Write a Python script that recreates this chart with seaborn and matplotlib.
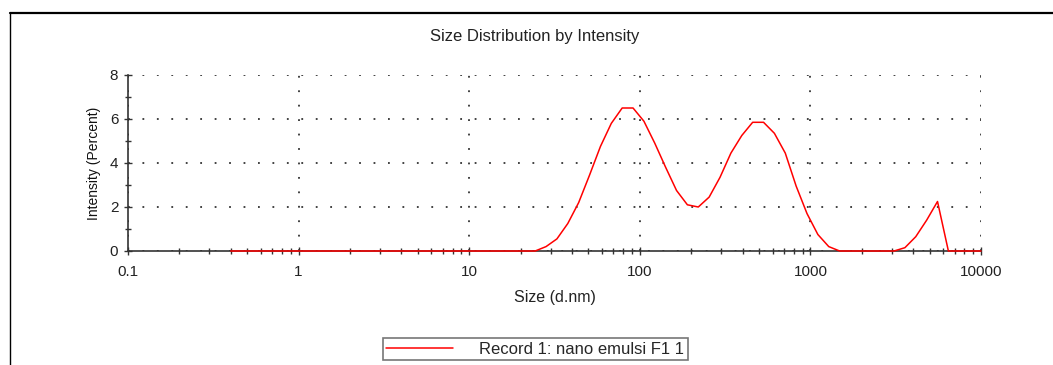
import matplotlib
matplotlib.use("Agg")
import matplotlib.pyplot as plt
import matplotlib.ticker as mticker
from matplotlib.lines import Line2D
import seaborn as sns
import pandas as pd

sizes = [0.4, 0.4632, 0.5365, 0.6213, 0.7195, 0.8332, 0.9649, 1.117, 1.294, 1.499,
         1.736, 2.01, 2.328, 2.696, 3.122, 3.615, 4.187, 4.849, 5.615, 6.503,
         7.531, 8.721, 10.1, 11.7, 13.54, 15.69, 18.17, 21.04, 24.36, 28.21,
         32.67, 37.84, 43.82, 50.75, 58.77, 68.06, 78.82, 91.28, 105.7, 122.4,
         141.8, 164.2, 190.1, 220.2, 255.0, 295.3, 342.0, 396.1, 458.7, 531.2,
         615.1, 712.4, 825.0, 955.4, 1106, 1281, 1484, 1718, 1990, 2305,
         2669, 3091, 3580, 4145, 4801, 5560, 6439, 7456, 8635, 10000]
intensity = [0, 0, 0, 0, 0, 0, 0, 0, 0, 0,
             0, 0, 0, 0, 0, 0, 0, 0, 0, 0,
             0, 0, 0, 0, 0, 0, 0, 0, 0, 0.2,
             0.55, 1.25, 2.2, 3.45, 4.75, 5.8, 6.5, 6.5, 5.9, 4.9,
             3.8, 2.75, 2.1, 2.0, 2.45, 3.35, 4.45, 5.25, 5.85, 5.85,
             5.35, 4.45, 2.95, 1.7, 0.75, 0.2, 0, 0, 0, 0,
             0, 0, 0.15, 0.65, 1.4, 2.25, 0, 0, 0, 0]
x_ticks = [0.1, 1, 10, 100, 1000, 10000]
x_tick_labels = ["0.1", "1", "10", "100", "1000", "10000"]
y_ticks = [0, 2, 4, 6, 8]
series_name = "Record 1: nano emulsi F1 1"

sns.set_style("white")
plt.rcParams['font.family'] = ['Liberation Sans', 'DejaVu Sans']

df = pd.DataFrame({"size": sizes, "intensity": intensity, "record": series_name})

fig = plt.figure(figsize=(10.53, 3.65), dpi=100)
ax = fig.add_axes([128/1053, 114/365, (981-128)/1053, 176/365])

sns.lineplot(data=df, x="size", y="intensity", hue="record", palette=["#ff0000"],
             ax=ax, linewidth=1.1, legend=False, zorder=5, clip_on=False)

ax.set_xscale("log")
ax.set_xlim(0.1, 10000)
ax.set_ylim(0, 8)
ax.xaxis.set_major_locator(mticker.FixedLocator(x_ticks))
ax.xaxis.set_major_formatter(mticker.FixedFormatter(x_tick_labels))
ax.xaxis.set_minor_locator(mticker.LogLocator(base=10, subs=range(2, 10), numticks=20))
ax.xaxis.set_minor_formatter(mticker.NullFormatter())
ax.yaxis.set_major_locator(mticker.FixedLocator(y_ticks))
ax.yaxis.set_minor_locator(mticker.FixedLocator([1, 3, 5, 7]))

for s in ["top", "right"]:
    ax.spines[s].set_visible(False)
for s in ["left", "bottom"]:
    ax.spines[s].set_color("#333333")
    ax.spines[s].set_linewidth(1.2)

ax.tick_params(axis="both", which="both", bottom=True, left=True, top=False, right=False)
ax.tick_params(axis="both", which="major", direction="inout", length=6, width=1,
               color="#333333", labelsize=11, labelcolor="#222222", pad=4)
ax.tick_params(axis="both", which="minor", direction="inout", length=5, width=1,
               color="#333333")
ax.tick_params(axis="x", which="major", pad=7)

ax.grid(True, which="major", color="#333333", linestyle=(0, (1, 7)), linewidth=1.3)
ax.set_axisbelow(True)

ax.set_xlabel("Size (d.nm)", fontsize=11.5, color="#222222", labelpad=8)
ax.set_ylabel("Intensity (Percent)", fontsize=10, color="#111111", labelpad=6)

fig.text(535/1053, 1 - 37/365, "Size Distribution by Intensity", ha="center",
         va="center", fontsize=12, color="#222222")

handle = Line2D([0], [0], color="#ff0000", linewidth=1.1)
leg = fig.legend([handle], [series_name], loc="center",
                 bbox_to_anchor=(535/1053, 1 - 349/365), frameon=True,
                 fancybox=False, edgecolor="#555555", fontsize=12,
                 handlelength=4.0, handletextpad=1.6, borderpad=0.2,
                 borderaxespad=0)
leg.get_frame().set_linewidth(1.2)

# outer frame (top and left)
fig.add_artist(Line2D([10/1053, 1.0], [1 - 13/365, 1 - 13/365], color="black",
                      linewidth=1.6, transform=fig.transFigure))
fig.add_artist(Line2D([10/1053, 10/1053], [0, 1 - 13/365], color="black",
                      linewidth=1.0, transform=fig.transFigure))

fig.savefig("out.png", dpi=100)
